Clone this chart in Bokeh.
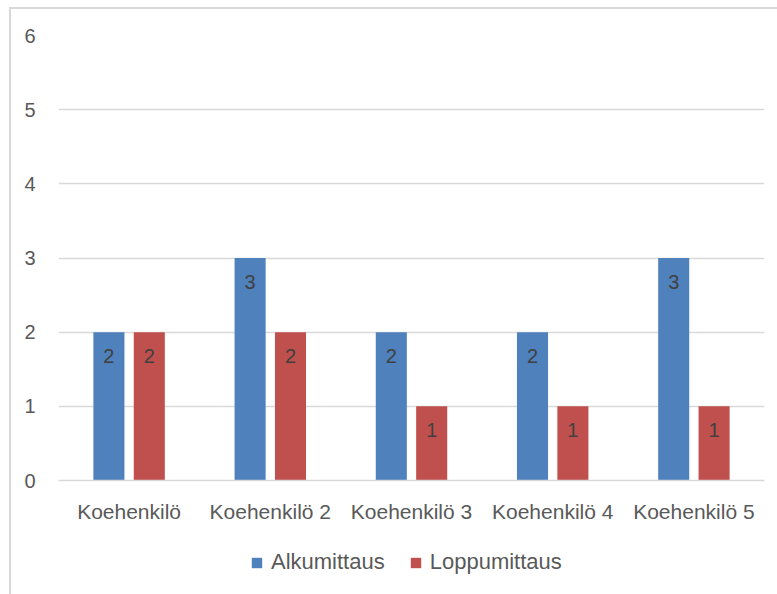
from bokeh.plotting import figure
from bokeh.layouts import column
from bokeh.models import ColumnDataSource, FactorRange, Range1d, Legend, LegendItem, FixedTicker
from bokeh.transform import dodge
from bokeh.core.properties import value
from bokeh.embed import file_html
from bokeh.resources import INLINE

# Data
subjects = ["Koehenkilö", "Koehenkilö 2", "Koehenkilö 3", "Koehenkilö 4", "Koehenkilö 5"]
alku = [2, 3, 2, 2, 3]
loppu = [2, 2, 1, 1, 1]
series_names = ["Alkumittaus", "Loppumittaus"]
y_ticks = [0, 1, 2, 3, 4, 5, 6]

BLUE = "#4F81BD"
RED = "#C0504D"
GRID = "#D9D9D9"
FONT = "Liberation Sans"

src = ColumnDataSource(dict(
    x=subjects,
    alku=alku,
    loppu=loppu,
    alku_txt=[str(v) for v in alku],
    loppu_txt=[str(v) for v in loppu],
))

p = figure(
    width=766, height=531,
    x_range=FactorRange(factors=subjects, range_padding=0),
    y_range=Range1d(0, 6),
    output_backend="svg", toolbar_location=None,
    min_border_left=47, min_border_right=13, min_border_top=26, min_border_bottom=60,
)
p.outline_line_color = None
p.background_fill_color = "white"
p.border_fill_color = "white"

bw = 0.22
off = 0.143
p.vbar(x=dodge("x", -off, range=p.x_range), top="alku", width=bw, source=src,
       fill_color=BLUE, line_color=None)
p.vbar(x=dodge("x", off, range=p.x_range), top="loppu", width=bw, source=src,
       fill_color=RED, line_color=None)

# value labels just inside the top of each bar
for col, o in (("alku", -off), ("loppu", off)):
    p.text(x=dodge("x", o, range=p.x_range), y=col, text=col + "_txt", source=src,
           text_align="center", text_baseline="top", y_offset=17,
           text_font=value(FONT), text_font_size="20px", text_color="#404040")

# axes
p.yaxis.ticker = FixedTicker(ticks=y_ticks)
p.yaxis.axis_line_color = None
p.yaxis.major_tick_line_color = None
p.yaxis.minor_tick_line_color = None
p.yaxis.major_label_standoff = 17
p.yaxis.major_label_text_font = FONT
p.yaxis.major_label_text_font_size = "20px"
p.yaxis.major_label_text_color = "#595959"

p.xaxis.axis_line_color = GRID
p.xaxis.axis_line_width = 1.5
p.xaxis.major_tick_line_color = None
p.xaxis.minor_tick_line_color = None
p.xaxis.major_label_standoff = 13
p.xaxis.major_label_text_font = FONT
p.xaxis.major_label_text_font_size = "21px"
p.xaxis.major_label_text_color = "#595959"

p.xgrid.grid_line_color = None
p.ygrid.grid_line_color = GRID
p.ygrid.grid_line_width = 1.5

# legend strip underneath the chart; its series sit outside its visible y window,
# so only the legend keys show
lg = figure(width=766, height=80, output_backend="svg", toolbar_location=None,
            min_border=0, x_range=FactorRange(factors=subjects), y_range=Range1d(100, 101))
lg.axis.visible = False
lg.grid.visible = False
lg.outline_line_color = None
lg.border_fill_color = "white"
k1 = lg.vbar(x="x", top="alku", width=bw, source=src, fill_color=BLUE, line_color=None)
k2 = lg.vbar(x="x", top="loppu", width=bw, source=src, fill_color=RED, line_color=None)

legend = Legend(
    items=[LegendItem(label=series_names[0], renderers=[k1]),
           LegendItem(label=series_names[1], renderers=[k2])],
    orientation="horizontal",
    location=(192, 45),
    glyph_width=13, glyph_height=13, label_standoff=8, spacing=24,
    label_text_font=FONT, label_text_font_size="22px", label_text_color="#595959",
    border_line_color=None, background_fill_alpha=0,
    padding=0, margin=0,
)
lg.add_layout(legend, "center")

layout = column(p, lg, spacing=0, margin=(7, 0, 0, 9),
                styles={"border-left": "2px solid #D9D9D9", "border-top": "2px solid #D9D9D9"})

open("out.html", "w").write(file_html(layout, INLINE))
